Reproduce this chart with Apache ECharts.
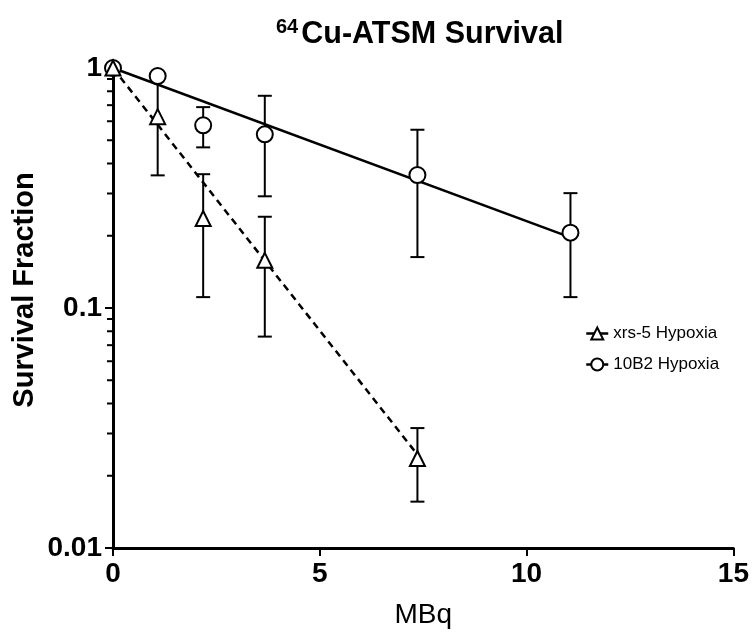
<!DOCTYPE html>
<html>
<head>
<meta charset="utf-8">
<script src="https://cdn.jsdelivr.net/npm/echarts@6/dist/echarts.min.js"></script>
<style>
  html, body { margin: 0; padding: 0; background: #fff; }
  #main { width: 752px; height: 634px; }
</style>
</head>
<body>
<div id="main"></div>
<script>
// 64Cu-ATSM 存活曲线
var doseXrs = [0, 1.08, 2.18, 3.67, 7.36];
var survXrs = [1, 0.627, 0.236, 0.158, 0.0236];
var sdXrs = [0, 0.27, 0.125, 0.082, 0.008];

var dose10B2 = [0, 1.08, 2.18, 3.67, 7.36, 11.06];
var surv10B2 = [1, 0.926, 0.577, 0.529, 0.358, 0.206];
var sd10B2 = [0, 0.03, 0.11, 0.237, 0.195, 0.095];

// 拟合线端点
var fitXrs = [[0, 1], [7.36, 0.0245]];
var fit10B2 = [[0, 1], [11.06, 0.197]];

var xTicks = [0, 5, 10, 15];
var yMinorTicks = [0.02, 0.03, 0.04, 0.05, 0.06, 0.07, 0.08, 0.09,
                   0.2, 0.3, 0.4, 0.5, 0.6, 0.7, 0.8, 0.9];

var font = 'Liberation Sans, Arial, sans-serif';

function points(xs, ys) {
    return xs.map(function (x, i) { return [x, ys[i]]; });
}
function errData(xs, ys, sds) {
    var out = [];
    xs.forEach(function (x, i) {
        if (sds[i] > 0) out.push([x, ys[i] - sds[i], ys[i] + sds[i]]);
    });
    return out;
}
function renderErr(params, api) {
    var lo = api.coord([api.value(0), api.value(1)]);
    var hi = api.coord([api.value(0), api.value(2)]);
    var w = 7;
    var st = { stroke: '#000', lineWidth: 2 };
    return {
        type: 'group',
        children: [
            { type: 'line', shape: { x1: hi[0], y1: hi[1], x2: lo[0], y2: lo[1] }, style: st },
            { type: 'line', shape: { x1: hi[0] - w, y1: hi[1], x2: hi[0] + w, y2: hi[1] }, style: st },
            { type: 'line', shape: { x1: lo[0] - w, y1: lo[1], x2: lo[0] + w, y2: lo[1] }, style: st }
        ]
    };
}

var myChart = echarts.init(document.getElementById('main'));
var option = {
    backgroundColor: '#fff',
    animation: false,
    title: {
        text: '{sup|64}{main|Cu-ATSM Survival}',
        left: 271,
        top: 12,
        textStyle: {
            rich: {
                sup: { fontFamily: font, fontWeight: 'bold', fontSize: 20, color: '#000', verticalAlign: 'top', lineHeight: 20, padding: [0, 3, 0, 0] },
                main: { fontFamily: font, fontWeight: 'bold', fontSize: 30.5, color: '#000', lineHeight: 36 }
            }
        }
    },
    graphic: [{
        type: 'text',
        x: 25,
        y: 290,
        rotation: Math.PI / 2,
        style: {
            text: 'Survival Fraction',
            fontFamily: font,
            fontWeight: 'bold',
            fontSize: 29,
            fill: '#000',
            align: 'center',
            verticalAlign: 'middle'
        }
    }],
    legend: {
        orient: 'vertical',
        left: 580,
        top: 320,
        itemWidth: 22,
        itemHeight: 15,
        itemGap: 14,
        data: ['xrs-5 Hypoxia', '10B2 Hypoxia'],
        lineStyle: { color: '#000', width: 2.5, opacity: 1, type: 'solid' },
        textStyle: { fontFamily: font, fontSize: 17, color: '#000' }
    },
    grid: { left: 113, right: 18, top: 68, bottom: 85 },
    xAxis: {
        type: 'value',
        min: 0,
        max: 15,
        interval: 5,
        name: 'MBq',
        nameLocation: 'middle',
        nameGap: 53,
        nameTextStyle: { fontFamily: font, fontSize: 28, color: '#000' },
        axisLine: { lineStyle: { color: '#000', width: 3 } },
        axisTick: { length: 8, lineStyle: { color: '#000', width: 2 } },
        axisLabel: { margin: 12, fontFamily: font, fontWeight: 'bold', fontSize: 28, color: '#000',
            formatter: function (v) { return xTicks.indexOf(v) >= 0 ? String(v) : ''; } },
        splitLine: { show: false }
    },
    yAxis: {
        type: 'log',
        logBase: 10,
        min: 0.01,
        max: 1,
        axisLine: { show: true, lineStyle: { color: '#000', width: 3 } },
        axisTick: { show: true, length: 8, lineStyle: { color: '#000', width: 2 } },
        axisLabel: { margin: 11, fontFamily: font, fontWeight: 'bold', fontSize: 28, color: '#000' },
        splitLine: { show: false }
    },
    series: [
        {
            type: 'custom',
            silent: true,
            clip: false,
            data: yMinorTicks.map(function (v) { return [0, v]; }),
            renderItem: function (params, api) {
                var p = api.coord([api.value(0), api.value(1)]);
                return { type: 'line', shape: { x1: p[0] - 6, y1: p[1], x2: p[0], y2: p[1] },
                         style: { stroke: '#000', lineWidth: 2 } };
            }
        },
        {
            type: 'line',
            silent: true,
            symbol: 'none',
            data: fit10B2,
            lineStyle: { color: '#000', width: 2.5 }
        },
        {
            type: 'line',
            silent: true,
            symbol: 'none',
            data: fitXrs,
            lineStyle: { color: '#000', width: 2.5, type: [7, 5] }
        },
        {
            type: 'custom',
            silent: true,
            data: errData(dose10B2, surv10B2, sd10B2),
            renderItem: renderErr
        },
        {
            type: 'custom',
            silent: true,
            data: errData(doseXrs, survXrs, sdXrs),
            renderItem: renderErr
        },
        {
            name: '10B2 Hypoxia',
            type: 'line',
            data: points(dose10B2, surv10B2),
            symbol: 'circle',
            symbolSize: 16,
            lineStyle: { opacity: 0 },
            itemStyle: { color: '#fff', borderColor: '#000', borderWidth: 2 }
        },
        {
            name: 'xrs-5 Hypoxia',
            type: 'line',
            data: points(doseXrs, survXrs),
            symbol: 'triangle',
            symbolSize: 15,
            lineStyle: { opacity: 0 },
            itemStyle: { color: '#fff', borderColor: '#000', borderWidth: 2 }
        }
    ]
};
myChart.setOption(option);
</script>
</body>
</html>
